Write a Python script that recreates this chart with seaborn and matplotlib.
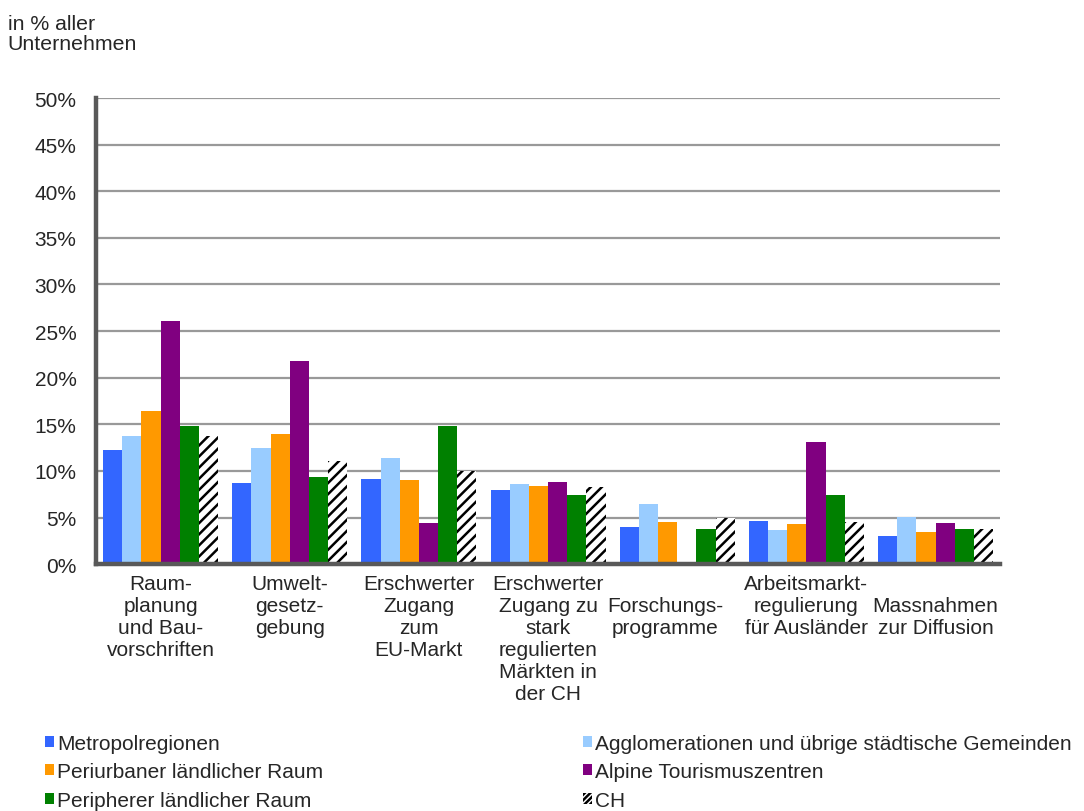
import matplotlib
matplotlib.use("Agg")
import matplotlib.pyplot as plt
from matplotlib.patches import Patch
from matplotlib.transforms import ScaledTranslation
import seaborn as sns
import pandas as pd

# Categories (policy areas) as shown on the x axis
kategorien = [
    "Raum-\nplanung\nund Bau-\nvorschriften",
    "Umwelt-\ngesetz-\ngebung",
    "Erschwerter\nZugang\nzum\nEU-Markt",
    "Erschwerter\nZugang zu\nstark\nregulierten\nMärkten in\nder CH",
    "\nForschungs-\nprogramme",
    "Arbeitsmarkt-\nregulierung\nfür Ausländer",
    "\nMassnahmen\nzur Diffusion",
]

regionen = [
    "Metropolregionen",
    "Agglomerationen und übrige städtische Gemeinden",
    "Periurbaner ländlicher Raum",
    "Alpine Tourismuszentren",
    "Peripherer ländlicher Raum",
    "CH",
]

# Share of firms (in %) per region type and category
metropol = [12.2, 8.7, 9.1, 8.0, 4.0, 4.6, 3.0]
agglomeration = [13.7, 12.5, 11.4, 8.6, 6.5, 3.7, 5.1]
periurban = [16.4, 14.0, 9.0, 8.4, 4.5, 4.3, 3.5]
alpin = [26.1, 21.8, 4.4, 8.8, 0.0, 13.1, 4.4]
peripher = [14.8, 9.3, 14.8, 7.4, 3.8, 7.4, 3.8]
schweiz = [13.7, 11.1, 10.0, 8.3, 4.9, 4.5, 3.8]

werte = [metropol, agglomeration, periurban, alpin, peripher, schweiz]
farben = ["#3366FF", "#99CCFF", "#FF9900", "#800080", "#008000", "#FFFFFF"]

rows = []
for reg, vals in zip(regionen, werte):
    for kat, v in zip(kategorien, vals):
        rows.append({"Kategorie": kat, "Region": reg, "Anteil": v})
df = pd.DataFrame(rows)

sns.set_style("white")
plt.rcParams["font.family"] = ["Liberation Sans", "DejaVu Sans"]
plt.rcParams["font.size"] = 14.5
plt.rcParams["hatch.linewidth"] = 1.8

fig = plt.figure(figsize=(10.84, 8.12), dpi=100)
ax = fig.add_axes([0.0886, 0.304, 0.834, 0.574])

sns.barplot(
    data=df, x="Kategorie", y="Anteil", hue="Region",
    order=kategorien, hue_order=regionen,
    palette=dict(zip(regionen, farben)), saturation=1,
    width=0.89, errorbar=None, legend=False, ax=ax,
    linewidth=0,
)

# Hatched bars for the Swiss total
for bar in ax.containers[-1]:
    bar.set_hatch("///")
    bar.set_edgecolor("black")
    bar.set_linewidth(0)

ax.set_ylim(0, 50)
ax.set_xlim(-0.5, len(kategorien) - 0.5)
ax.set_yticks(range(0, 51, 5))
ax.set_yticklabels([f"{t}%" for t in range(0, 51, 5)])
ax.yaxis.grid(True, color="#999999", linewidth=1.6)
ax.set_axisbelow(True)
ax.set_xlabel("")
ax.set_ylabel("")
ax.tick_params(axis="y", length=0, pad=14, labelsize=15)
ax.tick_params(axis="x", length=0, pad=7, labelsize=15)

# nudge the "Forschungsprogramme" label slightly to the left
lbl = ax.get_xticklabels()[4]
lbl.set_transform(lbl.get_transform() + ScaledTranslation(-0.12, 0, fig.dpi_scale_trans))

for side in ("top", "right"):
    ax.spines[side].set_visible(False)
for side in ("left", "bottom"):
    ax.spines[side].set_color("#595959")
    ax.spines[side].set_linewidth(3.2)

fig.text(0.007, 0.982, "in % aller\nUnternehmen", ha="left", va="top",
         fontsize=15.3, linespacing=1.12)

handles = []
for reg, col in zip(regionen, farben):
    if reg == "CH":
        handles.append(Patch(facecolor="white", edgecolor="black", hatch="//////",
                             linewidth=0, label=reg))
    else:
        handles.append(Patch(facecolor=col, linewidth=0, label=reg))
order = [0, 2, 4, 1, 3, 5]
fig.legend(
    [handles[i] for i in order], [regionen[i] for i in order],
    ncol=2, loc="upper left", bbox_to_anchor=(0.0415, 0.095),
    frameon=False, borderpad=0, borderaxespad=0,
    handlelength=0.45, handleheight=0.45, handletextpad=0.15,
    columnspacing=12.45, labelspacing=0.45, fontsize=15.0,
)

fig.savefig("out.png", dpi=100)
